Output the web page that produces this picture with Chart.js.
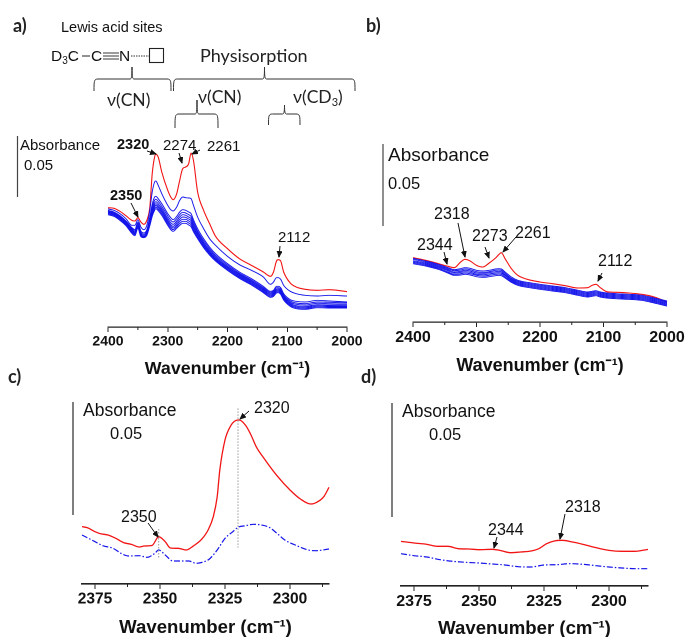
<!DOCTYPE html>
<html><head><meta charset="utf-8">
<script src="https://cdn.jsdelivr.net/npm/chart.js@4"></script>
<style>
html,body{margin:0;padding:0;background:#fff;width:686px;height:637px;overflow:hidden}
canvas{position:absolute}
svg{position:absolute;left:0;top:0}
.s{font-family:"Liberation Sans",Arial,sans-serif;fill:#111}
.l{font-family:Lato,sans-serif;fill:#222}
</style></head><body>
<canvas id="ca" style="left:88px;top:137px"></canvas>
<canvas id="cb" style="left:393px;top:200px"></canvas>
<canvas id="cc" style="left:62px;top:400px"></canvas>
<canvas id="cd" style="left:381px;top:400px"></canvas>
<svg id="ov" width="686" height="637" xmlns="http://www.w3.org/2000/svg"></svg>
<script>
// ---- panel a ---- relative absorbance (arbitrary offset; 0.05 = 183 units)
const wnA=[2400,2390,2380,2370,2360,2355,2350,2345,2340,2335,2330,2326,2322,2320,2316,2310,2300,2295,2291,2285,2280,2275,2270,2265,2261,2257,2250,2240,2230,2220,2200,2180,2160,2140,2128,2123,2118,2115,2111,2106,2095,2085,2070,2050,2030,2000];
const aRed=[358,356,347,334,320,318,328,315,308,320,360,460,510,518,510,465,410,390,382,400,440,475,480,490,522,500,405,350,310,272,235,205,185,165,152,165,198,202,198,165,132,120,113,110,112,106];
const aB1=[354,350,340,325,305,305,322,300,292,305,350,405,435,438,425,400,365,352,348,360,380,390,388,387,385,365,330,295,265,245,212,187,170,150,128,135,148,148,143,125,107,100,95,93,95,93];
const aB2=[350,345,334,318,298,292,315,288,282,292,330,368,390,392,385,370,340,328,322,332,345,352,350,345,340,322,295,265,240,220,190,165,145,122,107,110,122,122,118,100,82,77,75,80,78,75];
const aB3=[348,343,332,316,295,288,311,284,278,288,325,360,380,383,377,362,333,320,315,325,337,344,342,337,332,315,288,259,235,215,186,161,141,118,104,107,118,118,114,96,78,72,70,75,74,72];
const aB4=[346,341,330,314,292,285,308,281,275,285,320,353,372,376,370,355,326,313,308,318,330,337,335,330,325,308,283,254,230,211,182,158,138,115,101,104,114,115,110,93,74,68,66,71,70,68];
const aB5=[344,339,328,312,290,282,305,278,272,282,316,347,366,370,364,350,320,307,302,312,323,330,329,324,319,302,278,250,226,207,179,155,135,112,98,101,111,112,107,90,71,64,62,67,66,65];
const aB6=[342,337,326,310,287,280,302,275,271,279,312,342,361,365,359,345,315,302,297,306,317,323,323,318,313,297,274,246,223,204,176,152,132,109,95,98,108,109,104,87,68,61,59,64,63,62];
const aB7=[340,335,323,307,284,277,299,273,270,277,308,337,355,360,354,340,310,297,292,301,311,317,317,312,307,291,269,242,220,201,173,149,129,106,92,95,105,106,101,84,65,58,56,61,60,60];
const aB8=[337,332,320,304,281,274,296,271,268,275,304,332,350,355,349,335,305,292,287,296,305,311,311,306,301,286,265,238,216,198,170,146,126,103,89,92,102,103,98,81,62,55,53,58,57,57];
// ---- panel b ----
const wnB=[2400,2380,2360,2345,2335,2325,2318,2310,2300,2290,2280,2270,2265,2261,2255,2245,2235,2220,2200,2180,2160,2140,2125,2118,2112,2105,2095,2080,2060,2040,2020,2000];
const bRed=[193,185,175,167,163,180,188,183,170,165,177,192,202,208,190,160,140,128,120,115,109,102,103,110,113,103,91,89,87,83,75,60];
const bB1=[191,183,173,163,157,160,163,161,155,153,155,159,160,159,150,135,125,119,113,108,103,95,90,92,94,90,87,85,83,80,72,63];
const bB2=[188,180,170,160,154,156,159,157,151,149,151,155,156,155,146,131,122,116,110,105,100,92,87,89,91,87,84,82,80,77,69,60];
const bB3=[184,177,167,157,150,152,155,153,147,146,148,151,152,151,142,128,119,113,107,102,97,89,84,86,88,84,81,79,77,74,66,57];
const bB4=[181,174,164,154,147,149,151,149,143,142,144,147,148,147,139,125,116,110,104,99,94,86,81,83,85,81,78,76,74,71,63,54];
const bB5=[178,171,161,150,143,145,147,145,140,138,140,143,144,143,135,122,113,107,101,96,91,83,78,80,82,78,75,73,71,68,60,51];
const bB6=[175,168,158,147,140,141,143,141,136,134,136,139,140,139,132,119,110,104,98,93,88,80,75,77,79,75,72,70,68,65,57,48];
// ---- panel c ----
const wnCr=[2380,2378,2375,2373,2370,2367,2364,2361,2358,2356,2353,2350.5,2348,2346,2343,2340,2337,2334,2331.5,2329.5,2328,2327,2325,2323,2321,2319.5,2317,2315,2313,2310,2305,2300,2296,2292,2290,2287,2285];
const cRed=[172,169,157,151,147,137,124,119,111,114,116,142,127,108,107,102,115,134,162,202,262,342,432,472,490,492,475,447,412,377,325,282,255,240,244,262,290];
const wnCb=[2380,2375,2372,2368,2365,2362,2358,2355,2352,2350.5,2348,2345,2342,2339,2336,2333,2331,2328,2325,2322,2320,2317,2314,2311,2308,2305,2302,2298,2293,2290,2285];
const cBlue=[147,127,115,107,92,84,85,80,92,102,87,69,69,69,62,67,75,102,137,157,170,175,179,177,170,152,132,117,102,100,105];
// ---- panel d ----
const wnDr=[2380,2375,2370,2366,2362,2358,2354,2350,2345,2342,2338,2334,2330,2327,2324,2321,2318,2314,2310,2305,2300,2295,2290,2285];
const dRed=[134,129,125,119,119,112,111,109,110,107,100,102,105,112,127,135,137,132,125,115,107,104,104,110];
const wnDb=[2380,2375,2370,2365,2360,2355,2350,2345,2340,2335,2330,2325,2320,2315,2310,2305,2300,2295,2290,2285];
const dBlue=[97,91,87,79,74,71,69,66,63,58,57,63,64,67,65,61,57,54,52,52];
// ---- tick lists ----
const majorAB=[2400,2300,2200,2100,2000], minorAB=[2350,2250,2150,2050];
const majorCD=[2375,2350,2325,2300], minorCD=[2362.5,2337.5,2312.5,2287.5];
const guide2320X=[2320,2320], guide2320Y=[527,109], guide2350X=[2350.5,2350.5], guide2350Y=[165,75];
const axisTitle='Wavenumber (cm\u207B\u00B9)';

const RED='#f21414', BLUE='#1414ea';
const pts=(xs,ys)=>xs.map((x,i)=>({x,y:ys[i]}));
const minorPlugin={id:'minor',afterDraw(ch){
  const s=ch.scales.x,c=ch.ctx;c.save();c.strokeStyle='#222';c.lineWidth=1;
  (ch.options.plugins.minor.vals||[]).forEach(v=>{const p=s.getPixelForValue(v);c.beginPath();c.moveTo(p,s.top);c.lineTo(p,s.top+3);c.stroke();});
  c.restore();}};
Chart.register(minorPlugin);

function mk(id,w,h,cfg){
  const el=document.getElementById(id);
  el.width=w;el.height=h;
  new Chart(el,{type:'line',data:{datasets:cfg.ds},options:{
    responsive:false,animation:false,devicePixelRatio:2,
    layout:{padding:{left:cfg.pl,right:cfg.pr,top:0,bottom:0}},
    plugins:{legend:{display:false},tooltip:{enabled:false},title:{display:false},minor:{vals:cfg.minor}},
    elements:{point:{radius:0}},
    scales:{
      y:{display:false,min:0,max:cfg.ymax},
      x:{type:'linear',reverse:true,min:cfg.xmin,max:cfg.xmax,
        afterBuildTicks:s=>{s.ticks=cfg.major.map(v=>({value:v}));},
        afterFit:s=>{s.height=cfg.xh;},
        border:{display:true,color:'#222',width:cfg.bw||1.3},
        grid:{display:true,drawOnChartArea:false,drawTicks:true,tickLength:5,color:'#222',tickColor:'#222',tickWidth:1},
        ticks:{autoSkip:false,maxRotation:0,minRotation:0,padding:cfg.tp,color:'#111',font:{family:'"Liberation Sans"',weight:'bold',size:cfg.tf},callback:v=>String(v)},
        title:{display:true,text:axisTitle,color:'#111',font:{family:'"Liberation Sans"',weight:'bold',size:cfg.ttf},padding:{top:0,bottom:cfg.tb}}
      }}}});
}
const line=(xs,ys,col,extra)=>Object.assign({data:pts(xs,ys),borderColor:col,borderWidth:0.95,cubicInterpolationMode:'monotone',fill:false,clip:false},extra||{});

mk('ca',280,245,{pl:20,pr:21,ymax:570,xmin:2000,xmax:2400,xh:55,major:majorAB,minor:minorAB,tp:1,tf:14,ttf:17.8,tb:2,ds:[
  ...[aB8,aB7,aB6,aB5,aB4,aB3,aB2,aB1].map(a=>line(wnA,a,BLUE)),line(wnA,aRed,RED,{borderWidth:1.1})]});
mk('cb',293,180,{pl:20,pr:19,ymax:366,xmin:2000,xmax:2400,xh:58,major:majorAB,minor:minorAB,tp:1,tf:16,ttf:18,tb:3,ds:[
  ...[bB6,bB5,bB4,bB3,bB2,bB1].map(a=>line(wnB,a,BLUE)),line(wnB,bRed,RED,{borderWidth:1.1})]});
const guide=(x,y)=>({data:pts(x,y),borderColor:'#999',borderWidth:1,borderDash:[1.5,1.5],tension:0,clip:false});
mk('cc',287,237,{pl:20,pr:20,ymax:552,xmin:2285,xmax:2380,xh:53,major:majorCD,minor:minorCD,tp:1,tf:15.5,ttf:18.6,tb:-2,bw:1.6,ds:[
  guide(guide2320X,guide2320Y),guide(guide2350X,guide2350Y),
  line(wnCb,cBlue,BLUE,{borderDash:[6,2,1.5,2],borderWidth:1.2}),line(wnCr,cRed,RED,{borderWidth:1.3})]});
mk('cd',287,237,{pl:20,pr:20,ymax:558,xmin:2285,xmax:2380,xh:51,major:majorCD,minor:minorCD,tp:1,tf:16,ttf:18.6,tb:-3,bw:1.6,ds:[
  line(wnDb,dBlue,BLUE,{borderDash:[6,2,1.5,2],borderWidth:1.2}),line(wnDr,dRed,RED,{borderWidth:1.3})]});

// ---- annotations ----
const NS='http://www.w3.org/2000/svg',ov=document.getElementById('ov');
ov.innerHTML='<defs><marker id="ah" markerWidth="7" markerHeight="6" refX="6" refY="3" orient="auto" markerUnits="userSpaceOnUse"><path d="M0,0L7,3L0,6z" fill="#111"/></marker></defs>';
function T(x,y,s,size,cls,bold,extra){const t=document.createElementNS(NS,'text');t.setAttribute('x',x);t.setAttribute('y',y);t.setAttribute('class',cls||'s');t.setAttribute('font-size',size);if(bold)t.setAttribute('font-weight','bold');t.innerHTML=s;ov.appendChild(t);return t;}
function L(x1,y1,x2,y2,col,w,arrow,dash){const l=document.createElementNS(NS,'line');[['x1',x1],['y1',y1],['x2',x2],['y2',y2],['stroke',col||'#222'],['stroke-width',w||1]].forEach(a=>l.setAttribute(a[0],a[1]));if(arrow)l.setAttribute('marker-end','url(#ah)');if(dash)l.setAttribute('stroke-dasharray',dash);ov.appendChild(l);}
function A(x1,y1,x2,y2){L(x1,y1,x2,y2,'#111',1,true);}
function Br(x1,x2,top,end,nx,ny){const p=document.createElementNS(NS,'path');
  p.setAttribute('d',`M${x1},${end}C${x1},${top+2} ${x1},${top} ${x1+4},${top}L${nx-2},${top}C${nx-0.5},${top} ${nx},${top-2} ${nx},${ny}C${nx},${top-2} ${nx+0.5},${top} ${nx+2},${top}L${x2-4},${top}C${x2},${top} ${x2},${top+2} ${x2},${end}`);
  p.setAttribute('fill','none');p.setAttribute('stroke','#333');p.setAttribute('stroke-width','1');ov.appendChild(p);}

// panel letters
T(13,32,'a)',18,'l',true);T(366,32,'b)',18,'l',true);T(8,383,'c)',18,'l',true);T(361,383,'d)',18,'l',true);
// scheme
T(61,32,'Lewis acid sites',14.5);
T(51,61,'D<tspan font-size="10" dy="3">3</tspan><tspan dy="-3">C</tspan>',15.5);
L(82,56,90,56,'#222',1);T(91,61,'C',15.5);
L(103,53,119,53,'#222',.9);L(103,56,119,56,'#222',.9);L(103,59,119,59,'#222',.9);
T(119,61,'N',15.5);L(131,56,149,56,'#333',1,false,'1.5 1');
const sq=document.createElementNS(NS,'rect');[['x',149.5],['y',48.5],['width',14],['height',14],['fill','none'],['stroke','#222'],['stroke-width',1.1]].forEach(a=>sq.setAttribute(a[0],a[1]));ov.appendChild(sq);
T(200,62,'Physisorption',18,'l');
Br(94,171,79,91,132,67);Br(173.5,355,79,91,264.5,67);
T(107,106,'\u03BD(CN)',17.5,'l');
T(198,103,'\u03BD(CN)',17.5,'l');Br(175,218,114,128,197,100);
T(293,103,'\u03BD(CD<tspan font-size="11" dy="3">3</tspan><tspan dy="-3">)</tspan>',17.5,'l');Br(268.5,300,114,125,284.5,105);
// panel a
L(17.5,136,17.5,197,'#444',1.2);
T(20,150,'Absorbance',15);T(24,170,'0.05',15);
T(117,149,'2320',14.5,'s',true);T(163,150,'2274',15);T(207,151,'2261',15);
T(110,200,'2350',14.5,'s',true);T(278,242,'2112',15);
A(147,151,156,154);A(179,153,182,163);A(200,150,192,154);A(131,203,138,217);A(280,246,279,257);
// panel b
L(383,144,383,226,'#444',1.2);
T(388,161,'Absorbance',19);T(388,189,'0.05',16.5);
T(434,219,'2318',16);T(472,241,'2273',16);T(515,238,'2261',16);T(417,250,'2344',16);T(598,266,'2112',16);
A(458,223,465,257);A(485,247,489,258);A(516,237,503,252);A(444,252,447,264);A(602,273,598,281);
// panel c
L(73,402,73,515,'#555',1.5);
T(83,416,'Absorbance',17.5);T(110,439,'0.05',16.5);
T(121,522,'2350',16);T(254,413,'2320',16);
A(148,523,158,537);A(249,411,240,419);
// panel d
L(392,403,392,517,'#555',1.5);
T(402,417,'Absorbance',17.5);T(429,440,'0.05',16.5);
T(488,535,'2344',16);T(565,512,'2318',16);
A(497,537,494,548);A(565,514,560,539);
</script>
</body></html>
